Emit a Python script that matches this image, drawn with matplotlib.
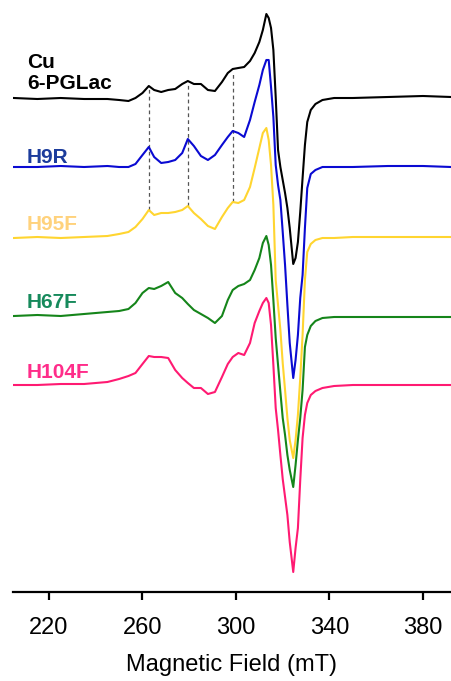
import matplotlib
matplotlib.use("Agg")
import matplotlib.pyplot as plt

plt.rcParams['font.family'] = ['Liberation Sans', 'DejaVu Sans']

# Magnetic field points (mT)
field = [205, 215, 225, 235, 245, 250, 254, 257, 260, 262.7,
         265, 268, 271, 274, 277, 279.4, 282, 285, 288, 291,
         294, 296.5, 298.6, 301, 303.5, 306, 308, 310, 311.5, 313,
         314, 315, 316, 317, 318, 319, 320, 321, 322, 323,
         324.5, 325.5, 326.5, 327.5, 328.5, 329.5, 330.5, 332, 334, 337,
         342, 350, 365, 380, 392]

# EPR signal (arbitrary units, relative to each baseline)
cu_6pglac = [0, -1, 0, -1, -1, -2, -3, 0, 5, 12,
             8, 6, 8, 9, 14, 17, 14, 14, 8, 7,
             16, 25, 29, 30, 31, 37, 45, 56, 68, 84,
             80, 70, 48, 1, -52, -69, -82, -95, -110, -130,
             -166, -160, -144, -114, -80, -47, -24, -12, -6, -2,
             0, 0, 1, 2, 1]
h9r = [-1, -1, 0, -1, 0, -1, -1, 2, 11, 19,
       9, 3, 4, 6, 13, 27, 20, 10, 6, 11,
       21, 29, 35, 33, 29, 46, 64, 81, 96, 106,
       106, 79, 49, 1, -19, -34, -66, -99, -139, -177,
       -212, -194, -169, -132, -109, -62, -22, -8, -4, -1,
       -1, -1, 0, 0, -1]
h95f = [-1, 0, -1, 0, 1, 3, 5, 10, 18, 27,
        22, 24, 24, 25, 27, 31, 24, 18, 11, 8,
        20, 29, 35, 34, 37, 50, 69, 89, 104, 109,
        97, 72, 32, -43, -68, -93, -126, -153, -181, -203,
        -221, -203, -178, -141, -98, -43, -15, -7, -3, -1,
        -1, 0, 0, 0, 0]
h67f = [0, 1, 0, 2, 4, 5, 7, 13, 23, 28,
        27, 30, 34, 23, 18, 12, 6, 2, -2, -7,
        0, 16, 26, 30, 32, 36, 46, 58, 73, 80,
        71, 51, 16, -22, -49, -76, -102, -119, -139, -154,
        -171, -149, -124, -102, -74, -31, -19, -10, -5, -2,
        -1, -1, -1, -1, -1]
h104f = [0, 0, 1, 1, 3, 6, 9, 12, 21, 29,
         28, 28, 27, 15, 7, 2, -3, -3, -9, -7,
         8, 21, 28, 32, 30, 42, 62, 74, 82, 87,
         82, 60, 20, -23, -45, -70, -94, -112, -130, -157,
         -187, -163, -143, -95, -53, -30, -18, -10, -6, -3,
         -1, 0, 0, 0, 0]

names = ["Cu\n6-PGLac", "H9R", "H95F", "H67F", "H104F"]
spectra = [cu_6pglac, h9r, h95f, h67f, h104f]
offsets = [494, 426, 355, 276, 207]
line_colors = ["#000000", "#0a0ad2", "#ffd530", "#15851a", "#ff1a72"]
text_colors = ["#000000", "#1c3c9c", "#ffd27c", "#178a5c", "#ff2d8a"]
label_y = [503, 429, 362, 284, 214]

# hyperfine lines marked across the top three spectra
marks = [262.7, 279.4, 298.6]

fig = plt.figure(figsize=(4.51, 6.81), dpi=100)
ax = fig.add_axes([13 / 451, 89 / 681, 438 / 451, 587 / 681])

for sig, off, col in zip(spectra, offsets, line_colors):
    ax.plot(field, [v + off for v in sig], color=col, lw=1.5)

for m in marks:
    i = field.index(m)
    top = cu_6pglac[i] + offsets[0] - 3
    bottom = h95f[i] + offsets[2]
    ax.plot([m, m], [bottom, top], color="#555555", lw=0.9, ls=(0, (3, 2.5)), zorder=0)

for name, y, col in zip(names, label_y, text_colors):
    ax.text(210.5, y, name, color=col, fontsize=15, fontweight="bold",
            va="baseline", ha="left", linespacing=1.15)

ax.set_xlim(204.6, 392)
ax.set_ylim(0, 587)
ax.set_xticks([220, 260, 300, 340, 380])
ax.set_yticks([])
for s in ["top", "left", "right"]:
    ax.spines[s].set_visible(False)
ax.spines["bottom"].set_linewidth(1.6)
ax.tick_params(axis="x", direction="out", length=6, width=1.6, labelsize=17, pad=12)
ax.set_xlabel("Magnetic Field (mT)", fontsize=17, labelpad=11)

fig.savefig("out.png", dpi=100)
